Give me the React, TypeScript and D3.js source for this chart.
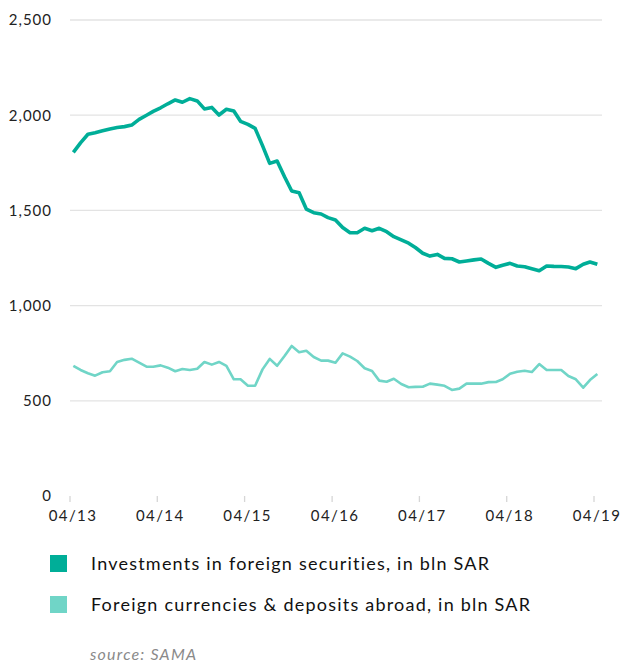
import React from "react";
import * as d3 from "d3";

const startYear = 2013;
const startMonth = 3; // April (0-based)

const investments = [
  1805, 1855, 1900, 1908, 1918, 1928, 1935, 1940, 1948, 1978,
  2000, 2020, 2039, 2060, 2080, 2068, 2087, 2075, 2033, 2041,
  2001, 2031, 2022, 1968, 1952, 1931, 1840, 1747, 1759, 1677,
  1602, 1593, 1507, 1488, 1481, 1462, 1450, 1410, 1383, 1383,
  1406, 1393, 1406, 1388, 1362, 1345, 1328, 1305, 1275, 1260,
  1269, 1248, 1246, 1229, 1234, 1240, 1245, 1222, 1201, 1212,
  1222, 1208, 1204, 1194, 1183, 1208, 1206, 1205, 1203, 1194,
  1217, 1229, 1217,
];

const deposits = [
  684, 662, 645, 632, 650, 655, 704, 715, 721, 700,
  679, 679, 686, 674, 655, 667, 662, 668, 704, 690,
  704, 683, 613, 613, 579, 579, 665, 720, 684, 735,
  788, 755, 763, 730, 711, 711, 700, 749, 732, 709,
  671, 657, 606, 600, 616, 588, 571, 573, 574, 590,
  585, 579, 557, 564, 590, 590, 590, 598, 599, 613,
  642, 653, 658, 651, 693, 662, 662, 662, 630, 613,
  569, 609, 641,
];

const yTicks = [0, 500, 1000, 1500, 2000, 2500];
const xTickLabels = ["04/13", "04/14", "04/15", "04/16", "04/17", "04/18", "04/19"];
const seriesNames = [
  "Investments in foreign securities, in bln SAR",
  "Foreign currencies & deposits abroad, in bln SAR",
];
const seriesColors = ["#00AE98", "#70D5C7"];
const sourceText = "source: SAMA";

const W = 627;
const H = 666;
const FONT = "Lato, 'Open Sans', sans-serif";

export default function App() {
  const x = d3
    .scaleTime()
    .domain([new Date(2013, 3, 1), new Date(2019, 3, 1)])
    .range([70, 594]);
  const y = d3.scaleLinear().domain([0, 2500]).range([496, 20]);

  const date = (i: number) => new Date(startYear, startMonth + i, 15);
  const line = d3
    .line<number>()
    .x((_, i) => x(date(i)))
    .y((v) => y(v))
    .curve(d3.curveLinear);

  const tickDates = xTickLabels.map((_, k) => new Date(startYear + k, startMonth, 1));

  return (
    <svg
      width={W}
      height={H}
      style={{ position: "absolute", left: 0, top: 0, background: "#fff" }}
      fontFamily={FONT}
    >
      {yTicks.map((t) => (
        <g key={t}>
          {t > 0 && (
            <line x1={70} x2={602} y1={y(t)} y2={y(t)} stroke="#e3e3e3" strokeWidth={1.3} />
          )}
          <text
            x={52}
            y={y(t)}
            dy="0.36em"
            textAnchor="end"
            fontSize={15}
            letterSpacing={1}
            fill="#222"
          >
            {d3.format(",")(t)}
          </text>
        </g>
      ))}
      {tickDates.map((d, k) => (
        <g key={k}>
          <line x1={x(d)} x2={x(d)} y1={496} y2={502} stroke="#d6d6d6" strokeWidth={1.3} />
          <text
            x={x(d) + 3}
            y={521}
            textAnchor="middle"
            fontSize={15}
            letterSpacing={1.4}
            fill="#222"
          >
            {xTickLabels[k]}
          </text>
        </g>
      ))}
      <path
        d={line(deposits) || ""}
        fill="none"
        stroke={seriesColors[1]}
        strokeWidth={2.6}
        strokeLinejoin="round"
      />
      <path
        d={line(investments) || ""}
        fill="none"
        stroke={seriesColors[0]}
        strokeWidth={3.6}
        strokeLinejoin="round"
      />
      {seriesNames.map((name, k) => (
        <g key={name} transform={`translate(50, ${555 + k * 41})`}>
          <rect x={0} y={0} width={17} height={17} fill={seriesColors[k]} />
          <text x={41} y={8.5} dy="0.36em" fontSize={18} letterSpacing={1.22} fill="#111">
            {name}
          </text>
        </g>
      ))}
      <text x={90} y={660} fontSize={16} fontStyle="italic" fill="#8a8a8a" letterSpacing={1.2}>
        {sourceText}
      </text>
    </svg>
  );
}
